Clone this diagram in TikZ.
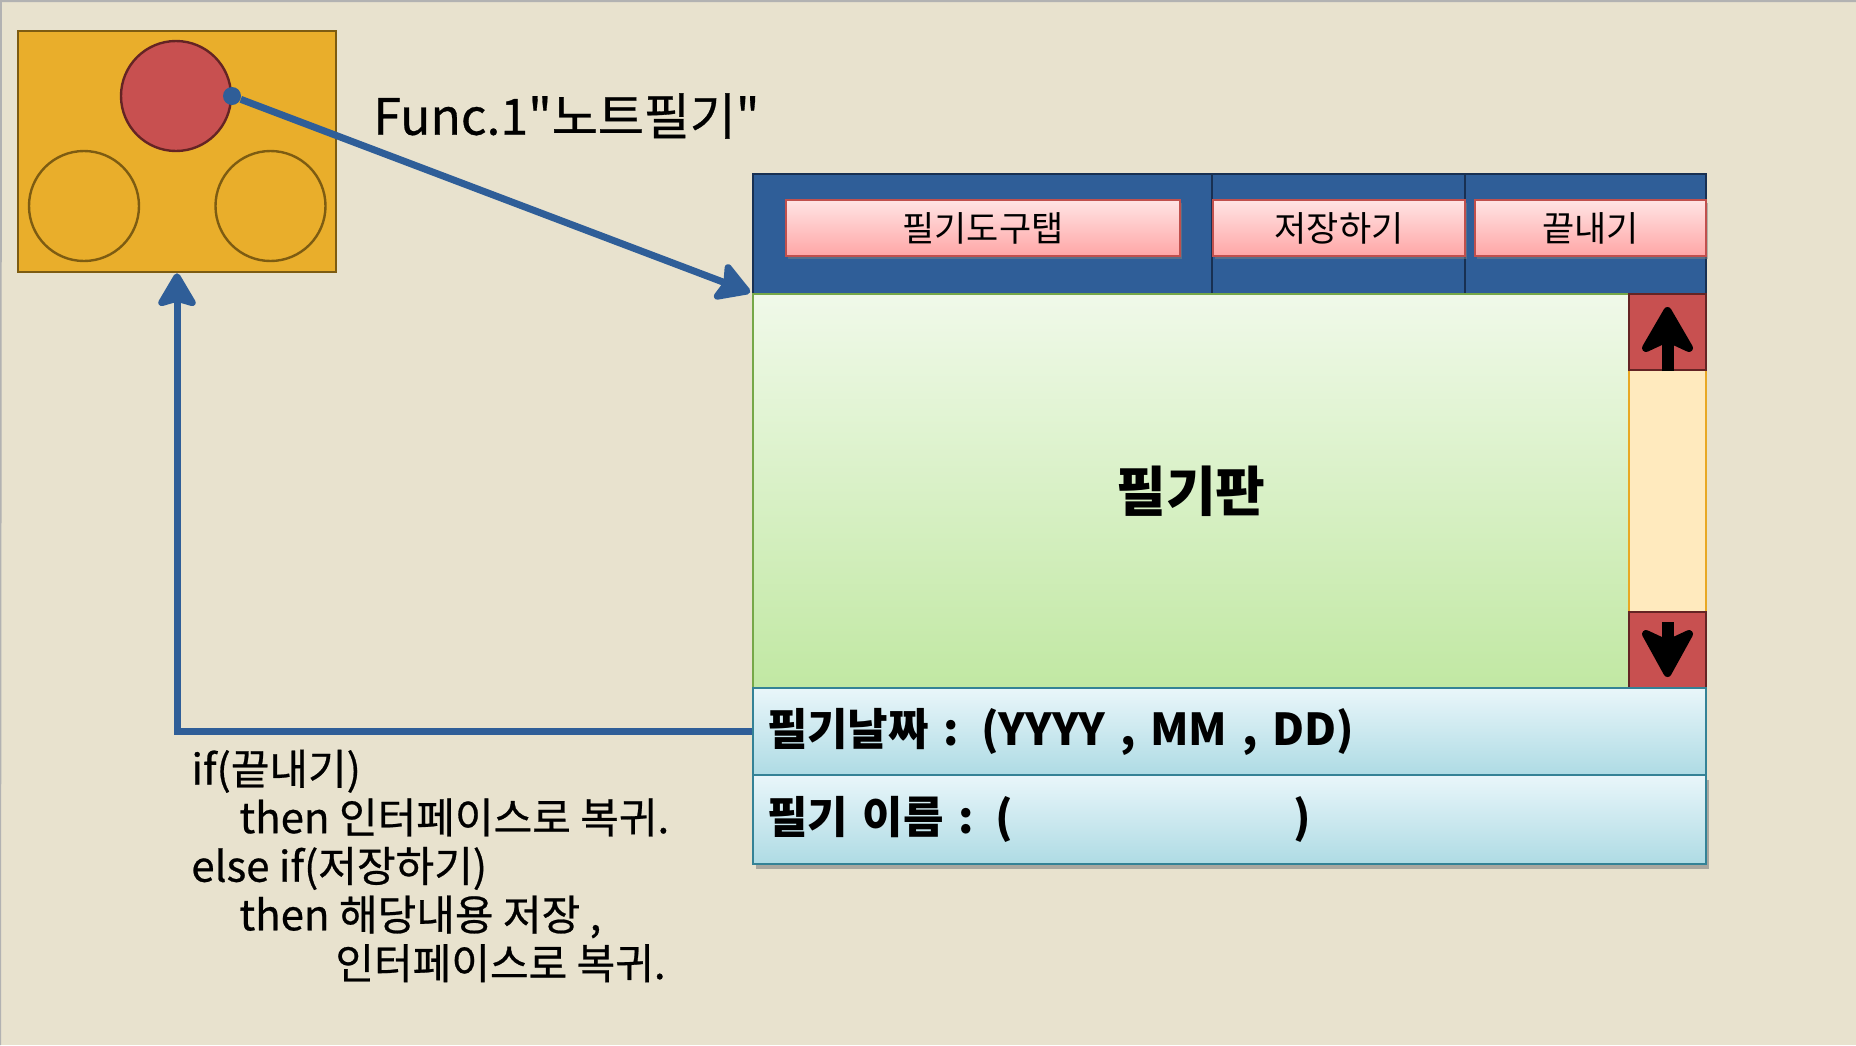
\documentclass[tikz,border=0pt]{standalone}
\usepackage{fontspec}
\newfontfamily\kr{Noto Sans CJK KR}
\newfontfamily\krm{Noto Sans CJK KR}[FakeBold=0.6]
\usetikzlibrary{arrows.meta,shadows}
\definecolor{sand}{RGB}{232,226,206}
\definecolor{frame}{RGB}{178,178,178}
\definecolor{mustard}{RGB}{233,174,43}
\definecolor{umber}{RGB}{125,92,18}
\definecolor{brick}{RGB}{200,80,80}
\definecolor{maroon}{RGB}{100,36,36}
\definecolor{linkblue}{RGB}{47,94,152}
\definecolor{navyline}{RGB}{24,48,82}
\definecolor{tabtop}{RGB}{255,228,228}
\definecolor{tabbot}{RGB}{255,166,166}
\definecolor{tabline}{RGB}{192,80,77}
\definecolor{boardtop}{RGB}{240,249,233}
\definecolor{boardbot}{RGB}{193,232,163}
\definecolor{boardline}{RGB}{118,168,72}
\definecolor{trackfill}{RGB}{255,234,190}
\definecolor{trackline}{RGB}{232,168,36}
\definecolor{rowtop}{RGB}{233,246,250}
\definecolor{rowbot}{RGB}{174,219,228}
\definecolor{rowline}{RGB}{52,130,150}
\begin{document}
\begin{tikzpicture}[x=0.5pt,y=-0.5pt,font=\kr]
            \tikzstyle{panel}=[rectangle, draw=umber, line width=1.3pt, fill=mustard, minimum width=159pt, minimum height=120.5pt]
            \tikzstyle{hole}=[circle, draw=umber, line width=1.2pt, inner sep=0pt, minimum size=55pt]
            \tikzstyle{active}=[hole, draw=maroon, fill=brick]
            \tikzstyle{dot}=[circle, fill=linkblue, inner sep=0pt, minimum size=9pt]
            \tikzstyle{bar}=[rectangle, fill=linkblue, draw=navyline, line width=1pt, minimum width=476.5pt, minimum height=60pt]
            \tikzstyle{tab}=[rectangle, draw=tabline, line width=1pt, top color=tabtop, bottom color=tabbot, minimum height=28pt, inner sep=0pt, font=\kr\fontsize{17.5}{21}\selectfont, drop shadow={shadow xshift=1pt, shadow yshift=-1.5pt, opacity=.5}]
            \tikzstyle{board}=[rectangle, draw=boardline, line width=1pt, top color=boardtop, bottom color=boardbot, minimum width=438pt, minimum height=197pt, font=\kr\bfseries\fontsize{27}{32}\selectfont]
            \tikzstyle{scrollbtn}=[rectangle, draw=maroon, line width=1.2pt, fill=brick, minimum width=38.5pt, minimum height=38pt]
            \tikzstyle{track}=[rectangle, draw=trackline, line width=1pt, fill=trackfill, minimum width=38.5pt, minimum height=121pt]
            \tikzstyle{inforow}=[rectangle, draw=rowline, line width=1.2pt, top color=rowtop, bottom color=rowbot, minimum width=476.5pt, text width=462.5pt, inner xsep=7pt, align=left, font=\kr\bfseries\fontsize{22}{26}\selectfont]
            \tikzstyle{glyph}=[fill=black, draw=black, line width=4pt, line join=round]
            \tikzstyle{link}=[color=linkblue, line width=3.5pt, -{Stealth[length=19pt, width=22pt, inset=3pt, round]}]
            \useasboundingbox (0,0) rectangle (1856,1045);
            \fill[sand] (0,0) rectangle (1856,1045);
            \draw[frame, line width=1pt] (0,1045) -- (1,1) -- (1856,1);
            % launcher
            \node[panel] (panel) at (177,151.5) {};
            \node[active] (note) at (176,96) {};
            \node[hole] (left) at (84,206) {};
            \node[hole] (right) at (270.5,206) {};
            \node[dot] (dot) at (232,96) {};
            \node[anchor=west, inner sep=0pt, font=\krm\fontsize{25}{30}\selectfont] (func) at (373,116) {Func.1"노트필기"};
            % note window
            \node[bar] (bar) at (1229.5,234) {};
            \draw[navyline, line width=1pt] (1212,174) -- (1212,294);
            \draw[navyline, line width=1pt] (1465,174) -- (1465,294);
            \node[tab, minimum width=197pt] (tools) at (983,228) {필기도구탭};
            \node[tab, minimum width=126pt] (save) at (1339,228) {저장하기};
            \node[tab, minimum width=115.5pt] (quit) at (1590.5,228) {끝내기};
            \node[board] (board) at (1191,491) {필기판};
            \node[track] (track) at (1667.5,491) {};
            \node[scrollbtn] (up) at (1667.5,332) {};
            \node[scrollbtn] (down) at (1667.5,650) {};
            \draw[black, line width=6pt] (up.south) -- (1667.5,340);
            \filldraw[glyph] (1646,348) -- (1667.5,311) -- (1689,348) -- (1667.5,338) -- cycle;
            \draw[black, line width=6pt] (1667.5,622) -- (1667.5,644);
            \filldraw[glyph] (1646,634) -- (1667.5,673) -- (1689,634) -- (1667.5,644) -- cycle;
            \node[inforow, minimum height=43.5pt] (date) at (1229.5,731.5) {필기날짜 : (YYYY , MM , DD)};
            \node[inforow, minimum height=44.5pt, drop shadow={shadow xshift=1.5pt, shadow yshift=-2.5pt, opacity=.6}] (name) at (1229.5,819.5) {필기 이름 : (\hspace*{140pt})};
            \node[anchor=west, inner sep=0pt, align=left, font=\krm\fontsize{21}{24.3}\selectfont] (cond) at (191,866) {if(끝내기)\\\hspace*{24pt}then 인터페이스로 복귀.\\else if(저장하기)\\\hspace*{24pt}then 해당내용 저장 ,\\\hspace*{72pt}인터페이스로 복귀.};
            % links
            \path [link] (dot) edge[shorten >=1pt] (board.north west);
            \draw [link] (date.west) -| (panel.south);
\end{tikzpicture}
\end{document}
